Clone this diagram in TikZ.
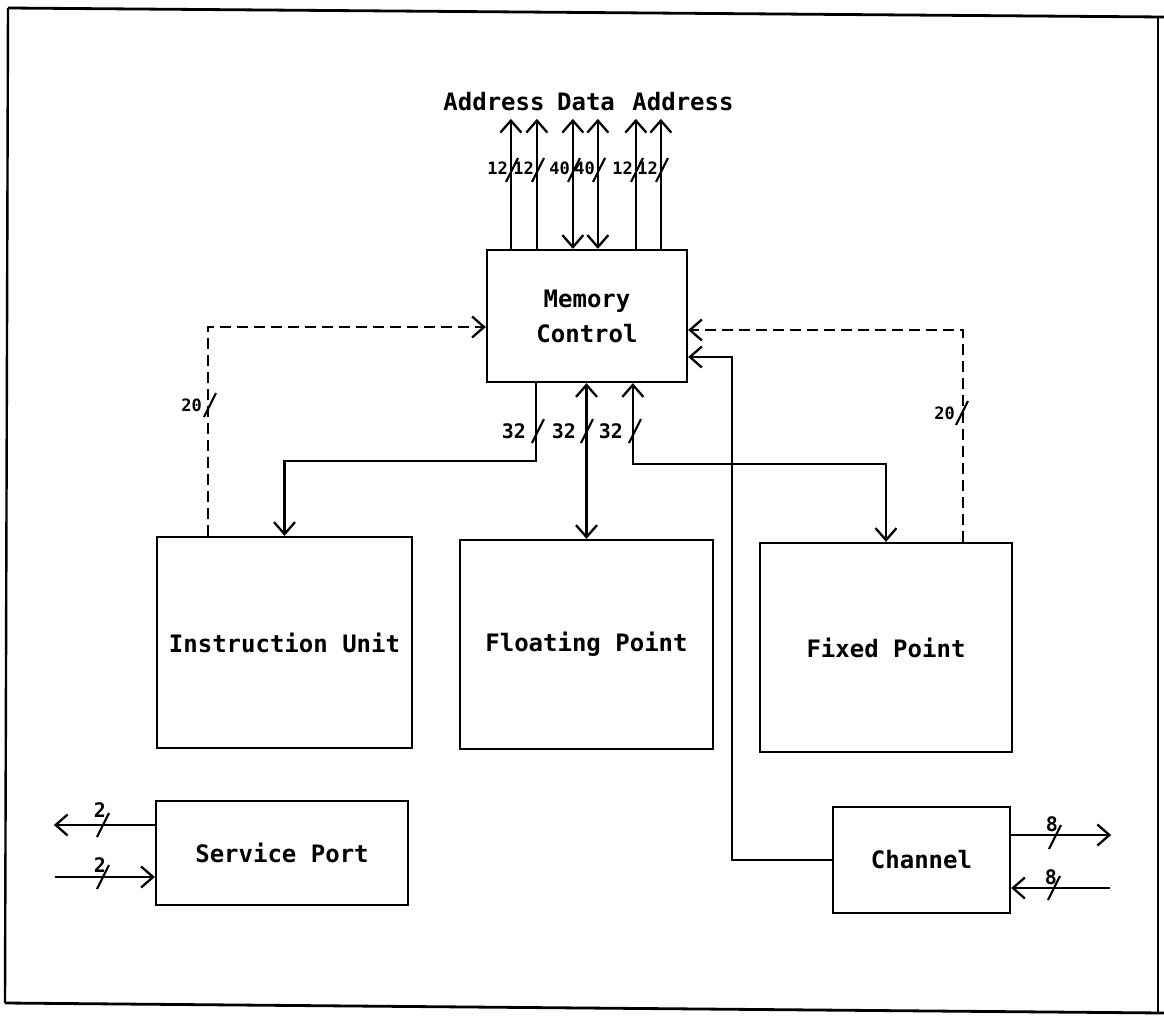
\documentclass[tikz,border=0pt]{standalone}
\usepackage{fontspec}
\newfontfamily\plotfont{DejaVu Sans Mono}
\usetikzlibrary{arrows.meta,calc}
\begin{document}
\begin{tikzpicture}[x=1pt,y=-1pt,line width=2.3pt,
  blk/.style={draw,rectangle,inner sep=0pt,align=center,font=\plotfont\bfseries\fontsize{24}{35}\selectfont},
  ttl/.style={inner sep=0pt,font=\plotfont\bfseries\fontsize{24}{29}\selectfont},
  lblm/.style={inner sep=0pt,font=\plotfont\bfseries\fontsize{20}{24}\selectfont},
  lbls/.style={inner sep=0pt,font=\plotfont\bfseries\fontsize{17}{20}\selectfont},
  barb/.tip={Straight Barb[length=12pt,width=21pt]},
  arr/.style={-barb},
  arrb/.style={barb-barb},
  dsh/.style={dash pattern=on 11pt off 6pt},
  bslash/.pic={\draw[line width=2.1pt] (-6,12) -- (6,-12);}
]
\useasboundingbox (0,0) rectangle (1164,1017);
% frame
\draw[line width=2.8pt] (8,8) -- (1164,17);
\draw[line width=2.4pt] (1158,17) -- (1158,1012);
\draw[line width=2.8pt] (5,1003) -- (1164,1013);
\draw[line width=2.4pt] (8,8) -- (5,1003);

% blocks
\node[blk,minimum width=200pt,minimum height=132pt] (mc) at (587,316) {Memory\\Control};
\node[blk,minimum width=255pt,minimum height=211pt] (iu) at (284.5,642.5) {Instruction Unit};
\node[blk,minimum width=253pt,minimum height=209pt] (fp) at (586.5,644.5) {Floating Point};
\node[blk,minimum width=252pt,minimum height=209pt] (fx) at (886,647.5) {Fixed Point};
\node[blk,minimum width=252pt,minimum height=104pt] (sp) at (282,853) {Service Port};
\node[blk,minimum width=177pt,minimum height=106pt] (ch) at (921.5,860) {Channel};

% top titles
\node[ttl] (ad1) at (494,102) {Address};
\node[ttl] (dat) at (586,102) {Data};
\node[ttl] (ad2) at (683,102) {Address};

% top buses
\draw[arr]  ([xshift=25pt]mc.north west) -- ++(0,-130);
\draw[arr]  ([xshift=51pt]mc.north west) -- ++(0,-130);
\draw[arrb] ([xshift=87pt]mc.north west) -- ++(0,-130);
\draw[arrb] ([xshift=112pt]mc.north west) -- ++(0,-130);
\draw[arr]  ([xshift=150pt]mc.north west) -- ++(0,-130);
\draw[arr]  ([xshift=175pt]mc.north west) -- ++(0,-130);
\pic at (512,170) {bslash};
\pic at (538,170) {bslash};
\pic at (574,170) {bslash};
\pic at (599,170) {bslash};
\pic at (637,170) {bslash};
\pic at (662,170) {bslash};
\node[lbls,anchor=east] (t1) at (509,168) {12};
\node[lbls,anchor=east] (t2) at (535,168) {12};
\node[lbls,anchor=east] (t3) at (571,168) {40};
\node[lbls,anchor=east] (t4) at (596,168) {40};
\node[lbls,anchor=east] (t5) at (634,168) {12};
\node[lbls,anchor=east] (t6) at (659,168) {12};

% memory control to units
\draw[arr]  ([xshift=50pt]mc.south west) -- ++(0,78) -| (iu.north);
\draw[arrb] (mc.south -| fp.north) -- (fp.north);
\draw[arrb] ([xshift=147pt]mc.south west) -- ++(0,81) -| (fx.north);
\pic at (538,431) {bslash};
\pic at (587,431) {bslash};
\pic at (635,431) {bslash};
\node[lblm,anchor=east] (b1) at (527,431) {32};
\node[lblm,anchor=east] (b2) at (577,431) {32};
\node[lblm,anchor=east] (b3) at (624,431) {32};

% dashed control lines
\draw[arr,dsh] ([xshift=52pt]iu.north west) |- ([yshift=-11pt]mc.west);
\draw[arr,dsh] ([xshift=-50pt]fx.north east) |- ([yshift=-14pt]mc.east);
\pic at (210,405) {bslash};
\pic at (962,413) {bslash};
\node[lbls,anchor=east] (c1) at (203,405) {20};
\node[lbls,anchor=east] (c2) at (956,413) {20};

% channel to memory control
\draw[arr] (ch.west) -- ++(-100,0) |- ([yshift=-41pt]mc.east);

% service port
\draw[arr] ([yshift=28pt]sp.west) -- ++(-101,0);
\coordinate (spin) at (55,877);
\draw[arr] (spin) -- (spin -| sp.west);
\pic at (103,825) {bslash};
\pic at (103,877) {bslash};
\node[lblm] (s1) at (100,810) {2};
\node[lblm] (s2) at (100,865) {2};

% channel external
\draw[arr] ([yshift=25pt]ch.east) -- ++(100,0);
\coordinate (chin) at (1110,888);
\draw[arr] (chin) -- (chin -| ch.east);
\pic at (1055,837) {bslash};
\pic at (1054,888) {bslash};
\node[lblm] (e1) at (1052,824) {8};
\node[lblm] (e2) at (1051,877) {8};
\end{tikzpicture}
\end{document}
